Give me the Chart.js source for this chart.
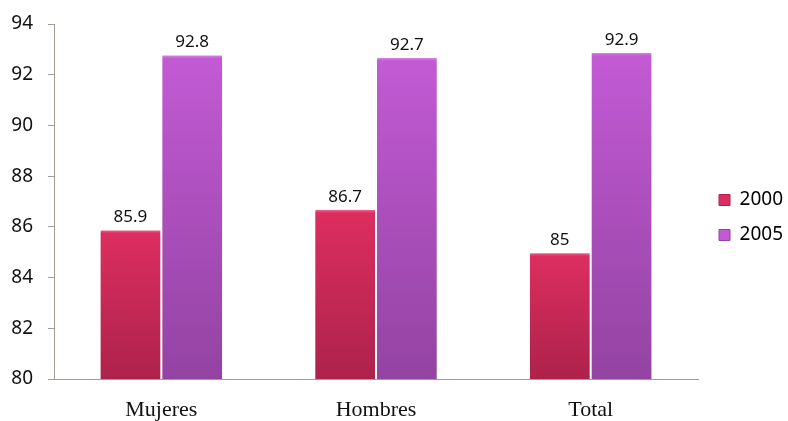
<!DOCTYPE html>
<html>
<head>
<meta charset="utf-8">
<script src="https://cdn.jsdelivr.net/npm/chart.js@4/dist/chart.umd.min.js"></script>
<style>
  html, body { margin: 0; padding: 0; background: #fff; }
  #wrap { width: 788px; height: 421px; }
</style>
</head>
<body>
<div id="wrap"><canvas id="chart" width="788" height="421"></canvas></div>
<script>
// Categories and series
const categories = ['Mujeres', 'Hombres', 'Total'];
const series2000 = [85.9, 86.7, 85];
const series2005 = [92.8, 92.7, 92.9];
const seriesNames = ['2000', '2005'];
const yTicks = [80, 82, 84, 86, 88, 90, 92, 94];

// highlight / top / bottom colours of each series
const shades = [
  ['#f2719a', '#dc2e60', '#ad224b'],
  ['#e290ee', '#c25ad4', '#9343a2']
];

function barFill(idx) {
  return function (context) {
    const chart = context.chart;
    const area = chart.chartArea;
    const yScale = chart.scales.y;
    if (!area || !yScale || context.raw == null) return shades[idx][1];
    const top = yScale.getPixelForValue(context.raw);
    const h = Math.max(area.bottom - top, 1);
    const g = chart.ctx.createLinearGradient(0, top, 0, area.bottom);
    g.addColorStop(0, shades[idx][0]);
    g.addColorStop(Math.min(4 / h, 0.5), shades[idx][1]);
    g.addColorStop(1, shades[idx][2]);
    return g;
  };
}

// draws the value above each bar
const valueLabels = {
  id: 'valueLabels',
  afterDatasetsDraw(chart) {
    const ctx = chart.ctx;
    ctx.save();
    ctx.font = '17px "Noto Sans", sans-serif';
    ctx.fillStyle = '#111';
    ctx.textAlign = 'center';
    ctx.textBaseline = 'middle';
    chart.data.datasets.forEach((ds, i) => {
      chart.getDatasetMeta(i).data.forEach((bar, j) => {
        ctx.fillText(String(ds.data[j]), bar.x, bar.y - 12);
      });
    });
    ctx.restore();
  }
};

// push the legend a little away from the plot
const legendShift = {
  id: 'legendShift',
  afterLayout(chart) {
    if (chart.legend) {
      chart.legend.left += 5;
      chart.legend.right += 5;
      chart.legend.top -= 5;
      chart.legend.bottom -= 5;
    }
  }
};

new Chart(document.getElementById('chart'), {
  type: 'bar',
  data: {
    labels: categories,
    datasets: [
      { label: seriesNames[0], data: series2000, backgroundColor: barFill(0),
        borderColor: 'rgba(255,255,255,0.7)', borderWidth: 1 },
      { label: seriesNames[1], data: series2005, backgroundColor: barFill(1),
        borderColor: 'rgba(255,255,255,0.7)', borderWidth: 1 }
    ]
  },
  options: {
    responsive: false,
    animation: false,
    layout: { padding: { left: 0, top: 24, right: 0, bottom: 0 } },
    datasets: { bar: { categoryPercentage: 0.575, barPercentage: 1.0 } },
    plugins: {
      tooltip: { enabled: false },
      legend: {
        position: 'right',
        labels: {
          boxWidth: 11,
          boxHeight: 11,
          padding: 16,
          color: '#111',
          font: { family: '"Noto Sans", sans-serif', size: 19 },
          generateLabels(chart) {
            return chart.data.datasets.map((ds, i) => ({
              text: ds.label,
              fillStyle: shades[i][1],
              strokeStyle: shades[i][2],
              lineWidth: 1,
              datasetIndex: i
            }));
          }
        }
      }
    },
    scales: {
      x: {
        grid: { display: false, drawTicks: false },
        border: { display: true, color: '#a39c96', width: 1 },
        afterFit(scale) { scale.height = 42; },
        ticks: {
          color: '#111',
          padding: 18,
          font: { family: '"Liberation Serif", serif', size: 22 }
        }
      },
      y: {
        min: 80,
        max: 94,
        afterBuildTicks(axis) { axis.ticks = yTicks.map(v => ({ value: v })); },
        afterFit(scale) { scale.width = 54; scale.paddingTop = 0; },
        grid: { drawOnChartArea: false, drawTicks: true, tickLength: 6, color: '#a39c96' },
        border: { display: true, color: '#a39c96', width: 1 },
        ticks: {
          color: '#111',
          padding: 15,
          font: { family: '"Noto Sans", sans-serif', size: 19 }
        }
      }
    }
  },
  plugins: [valueLabels, legendShift]
});
</script>
</body>
</html>
